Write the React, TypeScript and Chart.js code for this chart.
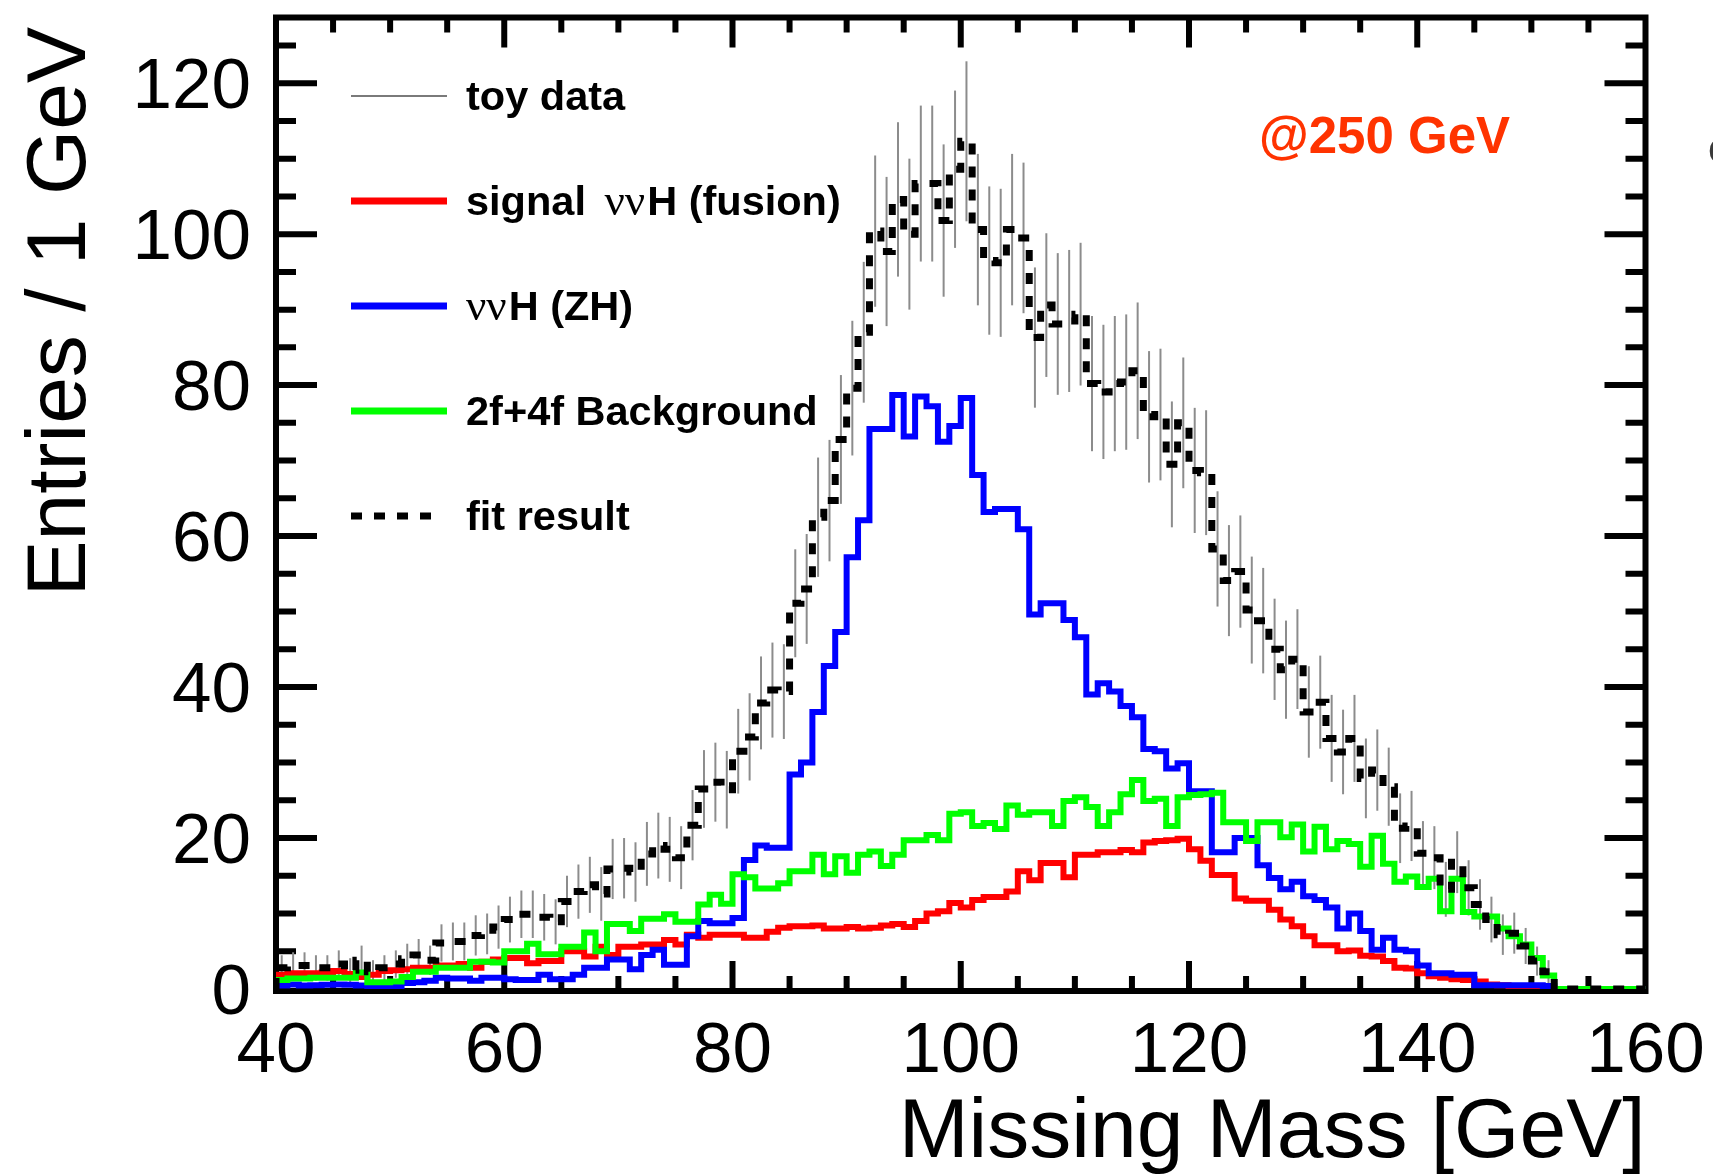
import React, { useEffect, useRef } from 'react';
import { Chart, registerables } from 'chart.js';

Chart.register(...registerables);

// ---------------- data (1 GeV bins, 40 .. 160 GeV) ----------------
const binEdges = [
  40, 41, 42, 43, 44, 45, 46, 47, 48, 49, 50, 51, 52, 53, 54, 55, 56, 57, 58, 59,
  60, 61, 62, 63, 64, 65, 66, 67, 68, 69, 70, 71, 72, 73, 74, 75, 76, 77, 78, 79,
  80, 81, 82, 83, 84, 85, 86, 87, 88, 89, 90, 91, 92, 93, 94, 95, 96, 97, 98, 99,
  100, 101, 102, 103, 104, 105, 106, 107, 108, 109, 110, 111, 112, 113, 114, 115, 116, 117, 118, 119,
  120, 121, 122, 123, 124, 125, 126, 127, 128, 129, 130, 131, 132, 133, 134, 135, 136, 137, 138, 139,
  140, 141, 142, 143, 144, 145, 146, 147, 148, 149, 150, 151, 152, 153, 154, 155, 156, 157, 158, 159,
  160,
];

const signalFusion = [
  1.9, 2.1, 2.1, 2.1, 2.2, 2.4, 2.0, 1.6, 1.9, 2.4,
  2.5, 2.6, 2.8, 2.8, 3.1, 3.1, 3.3, 2.8, 3.6, 3.9,
  4.1, 4.1, 3.4, 3.7, 3.7, 5.0, 5.0, 4.3, 5.6, 4.5,
  5.6, 5.6, 5.9, 5.9, 6.5, 5.9, 7.2, 6.8, 7.2, 7.2,
  7.2, 6.8, 6.8, 7.6, 8.1, 8.3, 8.3, 8.4, 8.0, 8.0,
  8.2, 8.0, 8.1, 8.4, 8.6, 8.2, 9.0, 10.0, 10.3, 11.4,
  10.8, 11.8, 12.2, 12.2, 12.9, 15.6, 14.4, 16.7, 16.7, 14.8,
  17.8, 17.8, 18.1, 18.1, 18.4, 18.1, 19.4, 19.6, 19.7, 19.9,
  18.5, 17.0, 15.1, 15.1, 12.0, 11.7, 11.7, 10.5, 9.2, 8.3,
  7.0, 5.8, 5.8, 5.0, 5.1, 4.4, 4.3, 3.7, 2.8, 2.7,
  2.1, 1.7, 1.5, 1.3, 1.2, 1.0, 0.6, 0.5, 0.4, 0.3,
  0.3, 0.2, 0, 0, 0, 0, 0, 0, 0, 0,
];

const zhSignal = [
  0.45, 0.6, 0.45, 0.5, 0.55, 0.6, 0.55, 0.45, 0.2, 0.2,
  0.3, 0.8, 0.9, 1.1, 1.5, 1.4, 1.4, 1.1, 1.5, 1.5,
  1.3, 1.2, 1.2, 1.9, 1.3, 1.3, 1.9, 2.8, 2.8, 3.9,
  3.9, 2.6, 4.5, 5.2, 3.2, 3.2, 7.0, 9.0, 8.7, 8.7,
  9.4, 17.1, 19.0, 18.7, 18.7, 28.4, 30.0, 36.7, 42.8, 47.3,
  57.2, 62.1, 74.2, 74.2, 78.7, 73.2, 78.5, 77.2, 72.5, 74.6,
  78.3, 68.1, 63.2, 63.6, 63.6, 60.9, 49.6, 51.1, 51.1, 48.9,
  46.6, 39.0, 40.5, 39.4, 37.5, 36.0, 31.8, 31.5, 29.2, 29.9,
  26.2, 26.2, 18.1, 18.1, 20.0, 20.0, 16.4, 14.7, 13.2, 14.2,
  12.3, 11.8, 10.8, 8.0, 10.0, 7.7, 5.2, 6.8, 5.2, 5.0,
  3.1, 2.1, 2.1, 1.9, 1.9, 0.5, 0.5, 0.5, 0.5, 0.5,
  0.5, 0.4, 0, 0, 0, 0, 0, 0, 0, 0,
];

const background = [
  1.2, 1.4, 1.4, 1.5, 1.5, 1.5, 1.5, 2.2, 0.9, 0.9,
  1.0, 1.6, 2.3, 2.3, 2.8, 2.8, 2.8, 3.6, 3.6, 3.5,
  5.0, 5.0, 6.0, 4.6, 4.6, 5.6, 5.6, 7.5, 5.0, 8.6,
  8.6, 7.7, 9.3, 9.3, 9.9, 8.9, 8.9, 11.2, 12.5, 11.3,
  15.2, 14.8, 13.3, 13.3, 14.0, 15.6, 15.6, 17.8, 15.2, 17.6,
  15.4, 17.8, 18.2, 16.3, 17.8, 19.7, 19.7, 20.4, 19.7, 23.2,
  23.4, 21.6, 22.0, 21.2, 24.3, 23.1, 23.4, 23.4, 21.6, 24.9,
  25.4, 24.1, 21.6, 23.4, 25.8, 27.7, 24.9, 25.2, 21.6, 25.4,
  25.7, 25.8, 26.0, 22.1, 22.1, 19.6, 22.1, 22.1, 20.1, 21.8,
  18.2, 21.5, 18.5, 19.6, 19.2, 16.2, 20.3, 16.6, 14.2, 14.9,
  13.5, 14.6, 10.3, 14.6, 10.2, 9.6, 9.6, 8.0, 7.0, 5.9,
  4.1, 1.8, 0, 0, 0, 0, 0, 0, 0, 0,
];

const fitResult = [
  2.8, 3.1, 3.1, 2.8, 2.8, 3.3, 2.5, 3.8, 2.3, 2.8,
  3.3, 4.0, 4.5, 3.8, 6.1, 6.3, 6.3, 7.1, 7.3, 8.2,
  9.2, 9.9, 9.9, 9.5, 8.9, 11.6, 12.9, 13.8, 12.6, 15.9,
  16.0, 15.5, 17.9, 19.0, 18.5, 17.4, 21.7, 26.5, 27.4, 26.4,
  31.5, 33.4, 37.9, 39.6, 39.4, 51.1, 53.0, 62.5, 64.7, 72.8,
  79.6, 87.0, 100.4, 97.7, 104.6, 100.0, 106.7, 106.7, 101.8, 108.6,
  112.3, 100.6, 96.5, 96.2, 100.6, 99.5, 86.3, 90.6, 88.1, 88.5,
  89.4, 80.2, 79.1, 80.2, 80.4, 81.9, 75.8, 76.1, 69.5, 75.0,
  68.7, 68.4, 58.3, 54.1, 55.3, 50.2, 48.8, 45.0, 42.3, 43.7,
  36.7, 38.0, 33.2, 31.4, 33.2, 27.9, 29.0, 26.8, 21.3, 21.6,
  18.0, 17.4, 13.2, 16.8, 13.4, 11.2, 9.2, 7.2, 7.4, 5.7,
  3.7, 2.3, 0, 0, 0, 0, 0, 0, 0, 0,
];

// toy data points (error bars are centred on these, Poisson errors)
const toyData = [
  2.8, 3.1, 3.1, 2.8, 2.8, 3.3, 2.5, 3.8, 2.3, 2.8,
  3.3, 4.0, 4.5, 3.8, 6.1, 6.3, 6.3, 7.1, 7.3, 8.2,
  9.2, 9.9, 9.9, 9.5, 8.9, 11.6, 12.9, 13.8, 12.6, 15.9,
  16.0, 15.5, 17.9, 19.0, 18.5, 17.4, 21.7, 26.5, 27.4, 26.4,
  31.5, 33.4, 37.9, 39.6, 39.4, 51.1, 53.0, 62.5, 64.7, 72.8,
  79.6, 87.0, 100.4, 97.7, 104.6, 100.0, 106.7, 106.7, 101.8, 108.6,
  112.3, 100.6, 96.5, 96.2, 100.6, 99.5, 86.3, 90.6, 88.1, 88.5,
  89.4, 80.2, 79.1, 80.2, 80.4, 81.9, 75.8, 76.1, 69.5, 75.0,
  68.7, 68.4, 58.3, 54.1, 55.3, 50.2, 48.8, 45.0, 42.3, 43.7,
  36.7, 38.0, 33.2, 31.4, 33.2, 27.9, 29.0, 26.8, 21.3, 21.6,
  18.0, 17.4, 13.2, 16.8, 13.4, 11.2, 9.2, 7.2, 7.4, 5.7,
  3.7, 2.3, 0, 0, 0, 0, 0, 0, 0, 0,
];

const xTickLabels = [40, 60, 80, 100, 120, 140, 160];
const yTickLabels = [0, 20, 40, 60, 80, 100, 120];
const legendLabels = ['toy data', 'signal ννH (fusion)', 'ννH (ZH)', '2f+4f Background', 'fit result'];
const xTitle = 'Missing Mass [GeV]';
const yTitle = 'Entries / 1 GeV';
const energyLabel = '@250 GeV';

// ---------------- styles ----------------
const SANS = "'Liberation Sans', Arial, Helvetica, sans-serif";
const SERIF = "'Liberation Serif', 'DejaVu Serif', 'Times New Roman', serif";
const RED = '#ff0000';
const BLUE = '#0000ff';
const GREEN = '#00ff00';
const DASH = [11, 12];

function histPoints(vals: number[]) {
  const n = vals.length;
  const pts: { x: number; y: number }[] = [{ x: binEdges[0], y: 0 }];
  for (let i = 0; i < n; i++) pts.push({ x: binEdges[i], y: vals[i] });
  pts.push({ x: binEdges[n], y: vals[n - 1] });
  pts.push({ x: binEdges[n], y: 0 });
  return pts;
}

function drawMixed(ctx: CanvasRenderingContext2D, label: string, x: number, y: number) {
  const parts = label.split(/(ν+)/).filter((p) => p.length > 0);
  let cx = x;
  parts.forEach((p, idx) => {
    if (/^ν+$/.test(p)) {
      ctx.font = `45px ${SERIF}`;
      if (idx > 0) cx += 7;
      ctx.fillText(p, cx, y);
      cx += ctx.measureText(p).width + 2;
    } else {
      ctx.font = `bold 41.5px ${SANS}`;
      ctx.fillText(p, cx, y);
      cx += ctx.measureText(p).width;
    }
  });
}

const rootStylePlugin = {
  id: 'rootStyle',
  beforeDatasetsDraw(chart: any) {
    const { ctx, chartArea: a, scales } = chart;
    const xs = scales.x;
    const ys = scales.y;
    ctx.save();

    // frame
    ctx.strokeStyle = '#000';
    ctx.lineWidth = 6;
    ctx.lineJoin = 'miter';
    ctx.strokeRect(a.left, a.top, a.right - a.left, a.bottom + 2 - a.top);

    // x ticks (every 5 GeV, major every 20)
    ctx.lineWidth = 6;
    for (let v = xs.min + 5; v < xs.max; v += 5) {
      const major = (v - xs.min) % 20 === 0;
      const len = major ? 30 : 15;
      const x = xs.getPixelForValue(v);
      ctx.beginPath();
      ctx.moveTo(x, a.bottom + 2);
      ctx.lineTo(x, a.bottom + 2 - len);
      ctx.moveTo(x, a.top);
      ctx.lineTo(x, a.top + len);
      ctx.stroke();
    }
    // y ticks (every 5, major every 20)
    for (let v = 5; v < ys.max; v += 5) {
      const major = v % 20 === 0;
      const len = major ? 41 : 20;
      const y = ys.getPixelForValue(v);
      ctx.beginPath();
      ctx.moveTo(a.left, y);
      ctx.lineTo(a.left + len, y);
      ctx.moveTo(a.right, y);
      ctx.lineTo(a.right - len, y);
      ctx.stroke();
    }

    // toy data error bars
    ctx.strokeStyle = '#8c8c8c';
    ctx.lineWidth = 2;
    toyData.forEach((v, i) => {
      if (v <= 0) return;
      const e = Math.sqrt(v);
      const x = xs.getPixelForValue((binEdges[i] + binEdges[i + 1]) / 2);
      const y1 = Math.max(a.top + 3, ys.getPixelForValue(v + e));
      const y2 = Math.min(a.bottom, ys.getPixelForValue(Math.max(0, v - e)));
      ctx.beginPath();
      ctx.moveTo(x, y1);
      ctx.lineTo(x, y2);
      ctx.stroke();
    });
    ctx.restore();
  },
  afterDraw(chart: any) {
    const { ctx, chartArea: a, scales } = chart;
    const xs = scales.x;
    const ys = scales.y;
    ctx.save();
    ctx.fillStyle = '#000';

    // tick labels
    ctx.font = `71px ${SANS}`;
    ctx.textBaseline = 'alphabetic';
    ctx.textAlign = 'center';
    xTickLabels.forEach((t) => {
      ctx.fillText(String(t), xs.getPixelForValue(t), 1072);
    });
    ctx.textAlign = 'right';
    yTickLabels.forEach((t) => {
      ctx.fillText(String(t), 251, ys.getPixelForValue(t) + 25);
    });

    // axis titles
    ctx.font = `84px ${SANS}`;
    ctx.textAlign = 'right';
    ctx.fillText(xTitle, a.right, 1157);
    ctx.save();
    ctx.translate(85, 27);
    ctx.rotate(-Math.PI / 2);
    ctx.textAlign = 'right';
    ctx.fillText(yTitle, 0, 0);
    ctx.restore();

    // legend
    const lx0 = 351;
    const lx1 = 447;
    const rows = [96, 201, 306, 411, 516];
    ctx.lineCap = 'butt';
    // toy data line
    ctx.strokeStyle = '#7a7a7a';
    ctx.lineWidth = 2;
    ctx.beginPath();
    ctx.moveTo(lx0, rows[0]);
    ctx.lineTo(lx1, rows[0]);
    ctx.stroke();
    [RED, BLUE, GREEN].forEach((c, k) => {
      ctx.strokeStyle = c;
      ctx.lineWidth = 7;
      ctx.beginPath();
      ctx.moveTo(lx0, rows[k + 1]);
      ctx.lineTo(lx1, rows[k + 1]);
      ctx.stroke();
    });
    ctx.strokeStyle = '#000';
    ctx.lineWidth = 7;
    ctx.setLineDash(DASH);
    ctx.beginPath();
    ctx.moveTo(lx0, rows[4]);
    ctx.lineTo(lx1 - 4, rows[4]);
    ctx.stroke();
    ctx.setLineDash([]);

    ctx.textAlign = 'left';
    ctx.fillStyle = '#000';
    legendLabels.forEach((lab, k) => {
      drawMixed(ctx, lab, 466, rows[k] + 14);
    });

    // energy label
    ctx.font = `bold 51px ${SANS}`;
    ctx.fillStyle = '#ff3300';
    ctx.textAlign = 'left';
    ctx.fillText(energyLabel, 1259, 153);

    // clipped glyph at the right border
    ctx.font = `40px ${SANS}`;
    ctx.fillStyle = '#3a3a3a';
    ctx.fillText('c', 1708, 162);

    ctx.restore();
  },
};

export default function App() {
  const canvasRef = useRef<HTMLCanvasElement | null>(null);

  useEffect(() => {
    document.body.style.margin = '0';
    const canvas = canvasRef.current;
    if (!canvas) return;

    const lineDs = (label: string, vals: number[], color: string, width: number, order: number, dash?: number[]) => ({
      label,
      data: histPoints(vals),
      borderColor: color,
      backgroundColor: color,
      borderWidth: width,
      borderDash: dash || [],
      borderCapStyle: 'butt' as const,
      borderJoinStyle: 'miter' as const,
      stepped: 'before' as const,
      pointRadius: 0,
      pointHoverRadius: 0,
      fill: false,
      tension: 0,
      order,
    });

    const chart = new Chart(canvas, {
      type: 'line',
      data: {
        datasets: [
          lineDs('fit result', fitResult, '#000000', 7, 0, DASH),
          lineDs('2f+4f Background', background, GREEN, 6, 1),
          lineDs('ννH (ZH)', zhSignal, BLUE, 6, 2),
          lineDs('signal ννH (fusion)', signalFusion, RED, 6, 3),
        ],
      },
      options: {
        animation: false,
        responsive: false,
        maintainAspectRatio: false,
        devicePixelRatio: 1,
        parsing: false as any,
        normalized: true,
        layout: { padding: { left: 276, right: 67.5, top: 17.5, bottom: 186 } },
        scales: {
          x: { type: 'linear', min: 40, max: 160, display: false },
          y: { type: 'linear', min: 0, max: 128.7, display: false },
        },
        plugins: {
          legend: { display: false },
          tooltip: { enabled: false },
        },
        events: [],
      },
      plugins: [rootStylePlugin],
    });

    return () => {
      chart.destroy();
    };
  }, []);

  return (
    <div style={{ width: 1713, height: 1175, background: '#fff' }}>
      <canvas ref={canvasRef} width={1713} height={1175} style={{ display: 'block', width: 1713, height: 1175 }} />
    </div>
  );
}
